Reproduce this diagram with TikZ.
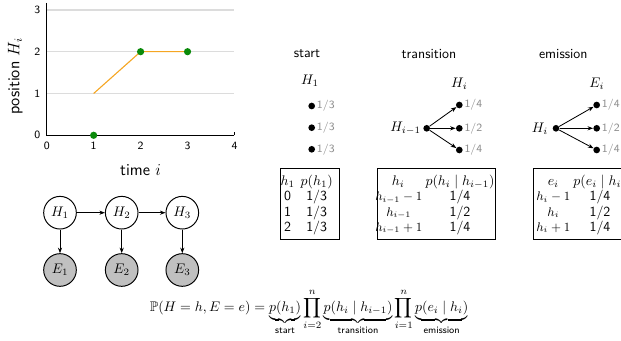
\documentclass[tikz,border=0pt]{standalone}
\usepackage{amsmath,amssymb}
\usepackage{xcolor}
\usepackage{tikz}
\usetikzlibrary{arrows.meta,positioning}
\definecolor{walk}{HTML}{F5A623}
\definecolor{visit}{HTML}{0A8A0A}
\definecolor{gridc}{HTML}{DCDCDC}
\definecolor{obsD}{HTML}{C0C0C0}
\definecolor{probc}{HTML}{8C8C8C}

\tikzset{
  hid/.style={circle, draw, line width=0.7pt, minimum size=23.5pt, inner sep=0pt},
  obs/.style={hid, fill=obsD},
  ptdot/.style={circle, fill, inner sep=0pt, minimum size=4.8pt},
  prob/.style={font=\sffamily\footnotesize, text=probc, inner sep=1pt, anchor=west},
  tbl/.style={draw, line width=0.7pt, anchor=north west, inner sep=0pt, minimum height=51pt},
  cell/.style={font=\sffamily, inner sep=0pt, anchor=base},
}

\begin{document}
\begin{tikzpicture}[x=0.72pt, y=-0.72pt, >={Stealth[length=4pt]}]
\useasboundingbox (0,0) rectangle (621,341);
\clip (0,0) rectangle (621,341);
% walk of the hidden position over time
\begin{scope}[shift={(46.7,135.3)}, x=33.8pt, y=30.1pt]
\foreach \k in {1,2,3} \draw[gridc, line width=1pt] (0,\k) -- (4,\k);
\draw[line width=0.7pt] (0,3.17) -- (0,0) -- (4,0);
\draw[line width=0.7pt] (4,0) -- (4,0.08);
\foreach \k in {0,...,4} \node[font=\sffamily\footnotesize, below] (xt\k) at (\k,-0.05) {\k};
\foreach \k in {0,...,3} \node[font=\sffamily\footnotesize, left] (yt\k) at (-0.03,\k) {\k};
\draw[walk, line width=0.8pt] (1,1) -- (2,2) -- (3,2);
\foreach \t/\h in {1/0,2/2,3/2} \node[ptdot, visit, minimum size=5.2pt] (v\t) at (\t,\h) {};
\node[font=\sffamily\large] (timelab) at (2,-0.83) {time $i$};
\node[font=\sffamily\large, rotate=90] (poslab) at (-0.67,1.41) {position $H_i$};
\end{scope}
% chain of hidden and observed variables
\foreach \i/\x in {1/60,2/121.7,3/182.3} {
  \node[hid] (h\i) at (\x,212.7) {$H_\i$};
  \node[obs] (e\i) at (\x,270) {$E_\i$};
  \draw[->, line width=0.6pt] (h\i) -- (e\i);
}
\draw[->, line width=0.6pt] (h1) -- (h2);
\draw[->, line width=0.6pt] (h2) -- (h3);
% start
\node[font=\sffamily] (hdstart) at (307,54) {start};
\node (sH) at (310,81) {$H_1$};
\foreach \k/\y in {1/106,2/127.7,3/149.3} {
  \node[ptdot] (s\k) at (311.7,\y) {};
  \node[prob] at (s\k.east) {1/3};
}
\node[tbl, minimum width=42.5pt] (tabstart) at (280,168) {};
\node[cell] (sh) at (287.7,185.5) {$h_1$};
\node[cell] (sp) at (316.7,185.5) {$p(h_1)$};
\foreach \v [count=\r] in {0,1,2} {
  \node[cell] (sa\r) at (287.7,{185.5+15.3*\r}) {\v};
  \node[cell] (sb\r) at (316.7,{185.5+15.3*\r}) {1/3};
}
% transition
\node[font=\sffamily] (hdtrans) at (429,54) {transition};
\node (tH) at (459.3,83.3) {$H_i$};
\node[ptdot] (tsrc) at (426.7,128.3) {};
\node[anchor=east, inner sep=1.5pt] (tprev) at (tsrc.west) {$H_{i-1}$};
\foreach \k/\y/\p in {1/105/{1/4},2/128.3/{1/2},3/150/{1/4}} {
  \node[ptdot] (tt\k) at (459.3,\y) {};
  \node[prob] at (tt\k.east) {\p};
  \draw[->, line width=0.6pt] (tsrc) -- (tt\k);
}
\node[tbl, minimum width=84.7pt] (tabtrans) at (377.3,168.3) {};
\node[cell] (th) at (398.3,185.5) {$h_i$};
\node[cell] (tp) at (460,185.5) {$p(h_i \mid h_{i-1})$};
\foreach \v/\p [count=\r] in {{h_{i-1}-1}/{1/4},{h_{i-1}}/{1/2},{h_{i-1}+1}/{1/4}} {
  \node[cell, font=\small] (ta\r) at (398.8,{185.5+15.3*\r}) {$\v$};
  \node[cell] (tb\r) at (460,{185.5+15.3*\r}) {\p};
}
% emission
\node[font=\sffamily] (hdemit) at (563.3,54) {emission};
\node (eE) at (596.7,83.3) {$E_i$};
\node[ptdot] (esrc) at (556,128.3) {};
\node[anchor=east, inner sep=3pt] (ecur) at (esrc.west) {$H_i$};
\foreach \k/\y/\p in {1/105/{1/4},2/128.3/{1/2},3/150/{1/4}} {
  \node[ptdot] (et\k) at (596.7,\y) {};
  \node[prob] at (et\k.east) {\p};
  \draw[->, line width=0.6pt] (esrc) -- (et\k);
}
\node[tbl, minimum width=84.7pt] (tabemit) at (533.3,168.3) {};
\node[cell] (eh) at (553.3,185.5) {$e_i$};
\node[cell] (ep) at (600,185.5) {$p(e_i \mid h_i)$};
\foreach \v/\p [count=\r] in {{h_i-1}/{1/4},{h_i}/{1/2},{h_i+1}/{1/4}} {
  \node[cell, font=\small] (ea\r) at (553.3,{185.5+15.3*\r}) {$\v$};
  \node[cell] (eb\r) at (600,{185.5+15.3*\r}) {\p};
}
% joint distribution
\node (joint) at (309,312) {$\displaystyle \mathbb{P}(H=h,E=e)=\underbrace{p(h_1)}_{\text{\sffamily start}}\prod_{i=2}^{n}\underbrace{p(h_i\mid h_{i-1})}_{\text{\sffamily transition}}\prod_{i=1}^{n}\underbrace{p(e_i\mid h_i)}_{\text{\sffamily emission}}$};
\end{tikzpicture}
\end{document}
